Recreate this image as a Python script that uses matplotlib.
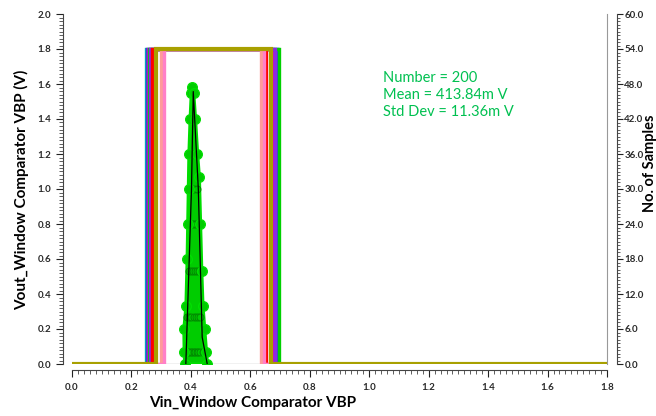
import numpy as np
import matplotlib
matplotlib.use("Agg")
import matplotlib.pyplot as plt
from matplotlib.ticker import MultipleLocator, FormatStrFormatter

plt.rcParams['font.family'] = ['Lato', 'DejaVu Sans']

# Monte Carlo waveforms: (rising edge, falling edge) of Vout vs Vin
v_high = 1.8
rise_v = [0.248, 0.252, 0.256, 0.260, 0.262, 0.268, 0.300, 0.310, 0.283]
fall_v = [0.692, 0.690, 0.675, 0.695, 0.684, 0.652, 0.637, 0.645, 0.671]
trace_colors = ['#00b4b4', '#3a3ae0', '#d000d0', '#00d000', '#8a2be2',
                '#ff0000', '#ff9a9a', '#ff80c8', '#a8a000']

# histogram of switching threshold (counts on right axis), black outline
hist_v = [0.383, 0.402, 0.408, 0.425, 0.438, 0.455]
hist_n = [0.0, 30.0, 46.7, 30.0, 4.6, 0.0]

# green sample cloud around the histogram (outer envelope)
env_v = [0.380, 0.378, 0.377, 0.384, 0.388, 0.390, 0.392, 0.394, 0.398, 0.402,
         0.405, 0.409, 0.415, 0.422, 0.428, 0.432, 0.436, 0.440, 0.446, 0.452,
         0.455]
env_n = [0, 2, 6, 10, 18, 24, 30, 36, 42, 46.5,
         47.5, 46.5, 42, 36, 32, 24, 16, 10, 6, 2,
         0]

# extra circle markers inside the cloud
pt_v = [0.385, 0.390, 0.395, 0.400, 0.405, 0.410, 0.415, 0.420, 0.425, 0.430,
        0.440, 0.445, 0.388, 0.395, 0.402, 0.409, 0.416, 0.423, 0.430,
        0.392, 0.399, 0.406, 0.413, 0.420, 0.427, 0.396, 0.403, 0.410, 0.417,
        0.424, 0.398, 0.405, 0.412, 0.419, 0.400, 0.407, 0.414, 0.403, 0.410]
pt_n = [2, 2, 2, 2, 2, 2, 2, 2, 2, 2,
        2, 2, 8, 8, 8, 8, 8, 8, 8,
        16, 16, 16, 16, 16, 16, 24, 24, 24, 24,
        24, 30, 30, 30, 30, 36, 36, 36, 42, 42]

stats = ["Number = 200", "Mean = 413.84m V", "Std Dev = 11.36m V"]

fig = plt.figure(figsize=(6.56, 4.16), dpi=100)
ax = fig.add_axes([72 / 656, 52 / 416, 535 / 656, 350 / 416])
ax2 = ax.twinx()

x_end = 1.8
for r, f, c in zip(rise_v, fall_v, trace_colors):
    xs = [0, r, r, f, f, x_end]
    ys = [0, 0, v_high, v_high, 0, 0]
    lw = 3.0 if c == '#a8a000' else 2.4
    ax.plot(xs, ys, color=c, lw=lw, solid_joinstyle='miter', zorder=3)

# thin black baseline (visible inside the window)
ax.plot([0, x_end], [0, 0], color='black', lw=0.8, zorder=1)

ax.set_xlim(0, 1.8)
ax.set_ylim(0, 2.0)
ax2.set_ylim(0, 60)

# histogram on the right axis
ax2.fill(env_v, env_n, facecolor='#00cc00', edgecolor='#00dd00', lw=2.5,
         zorder=4)
ax2.plot(pt_v, pt_n, 'o', mfc='#00c800', mec='#008800', ms=5, mew=0.7, zorder=5)
ax2.plot(env_v, env_n, 'o', mfc='#00cc00', mec='#00e000', ms=7, mew=0.9, zorder=5)
ax2.plot(hist_v, hist_n, color='black', lw=0.9, zorder=6)

ax.text(1.045, 1.675, "\n".join(stats), color='#00c050', fontsize=10.5,
        va='top', ha='left', linespacing=1.3, transform=ax.transData)

# axes styling
tick_kw = dict(labelsize=7, colors='#222222', labelcolor='#2a2a2a')
ax.spines['top'].set_visible(False)
ax.spines['left'].set_position(('outward', 6.5))
ax.spines['bottom'].set_position(('outward', 4.5))
ax.spines['right'].set_color('#999999')
ax.spines['right'].set_linewidth(0.8)
for s in ['left', 'bottom']:
    ax.spines[s].set_color('#444444')
    ax.spines[s].set_linewidth(0.8)

ax.xaxis.set_major_locator(MultipleLocator(0.2))
ax.xaxis.set_minor_locator(MultipleLocator(0.02))
ax.yaxis.set_major_locator(MultipleLocator(0.2))
ax.yaxis.set_minor_locator(MultipleLocator(0.02))
ax.xaxis.set_major_formatter(FormatStrFormatter('%.1f'))
ax.yaxis.set_major_formatter(FormatStrFormatter('%.1f'))
ax.tick_params(axis='both', which='major', length=5, width=0.8, **tick_kw)
ax.tick_params(axis='both', which='minor', length=3, width=0.6, colors='#444444')
ax.tick_params(axis='y', which='both', right=False)
ax.tick_params(axis='x', which='major', pad=4)

for s in ['top', 'left', 'bottom']:
    ax2.spines[s].set_visible(False)
ax2.spines['right'].set_position(('outward', 7))
ax2.spines['right'].set_color('#444444')
ax2.spines['right'].set_linewidth(0.8)
ax2.yaxis.set_major_locator(MultipleLocator(6))
ax2.yaxis.set_minor_locator(MultipleLocator(0.6))
ax2.yaxis.set_major_formatter(FormatStrFormatter('%.1f'))
ax2.tick_params(axis='y', which='major', length=4, width=0.8, pad=1.5, **tick_kw)
ax2.tick_params(axis='y', which='minor', length=2.5, width=0.6, colors='#444444')

for lab in ax.get_xticklabels() + ax.get_yticklabels() + ax2.get_yticklabels():
    lab.set_fontweight('bold')

fig.text(253 / 656, 1 - 403 / 416, "Vin_Window Comparator VBP", fontsize=11,
         fontweight='bold', ha='center', va='center')
fig.text(22 / 656, 1 - 190 / 416, "Vout_Window Comparator VBP (V)", fontsize=11,
         fontweight='bold', ha='center', va='center', rotation=90)
fig.text(650 / 656, 1 - 163 / 416, "No. of Samples", fontsize=10.5,
         fontweight='bold', ha='center', va='center', rotation=90)

fig.savefig("out.png", dpi=100)
